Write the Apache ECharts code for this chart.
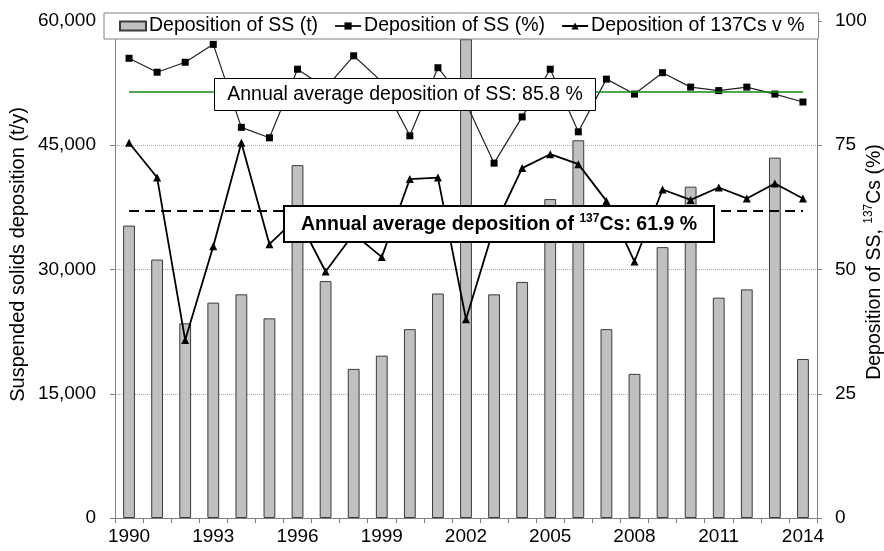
<!DOCTYPE html>
<html>
<head>
<meta charset="utf-8">
<script src="https://cdn.jsdelivr.net/npm/echarts@6/dist/echarts.min.js"></script>
<style>
  html, body { margin: 0; padding: 0; background: #fff; }
  #chart { width: 884px; height: 551px; }
</style>
</head>
<body>
<div id="chart"></div>
<script>
// Annual suspended-solids (SS) deposition and deposition shares, 1990-2014
const years = ['1990','1991','1992','1993','1994','1995','1996','1997','1998','1999',
               '2000','2001','2002','2003','2004','2005','2006','2007','2008','2009',
               '2010','2011','2012','2013','2014'];

// Deposition of SS, tonnes per year (left axis)
const ssTonnes = [35300, 31200, 23500, 26000, 27000, 24100, 42600, 28600, 18000, 19600,
                  22800, 27100, 57800, 27000, 28500, 38500, 45600, 22800, 17400, 32700,
                  40000, 26600, 27600, 43500, 19200];

// Deposition of SS, % (right axis)
const ssPercent = [92.5, 89.7, 91.7, 95.3, 78.6, 76.5, 90.3, 86.5, 93.0, 87.8,
                   76.9, 90.6, 83.5, 71.4, 80.7, 90.3, 77.7, 88.3, 85.3, 89.6,
                   86.7, 86.0, 86.7, 85.3, 83.7];

// Deposition of 137Cs, % (right axis)
const csPercent = [75.5, 68.5, 35.8, 54.7, 75.5, 55.1, 60.5, 49.6, 57.2, 52.5,
                   68.2, 68.5, 40.0, 58.5, 70.4, 73.2, 71.2, 63.8, 51.6, 66.1,
                   64.0, 66.5, 64.3, 67.3, 64.3];

// Long-term annual averages
const ssAverage = 85.8;
const csAverage = 61.9;

// Axis ranges
const leftAxis = { min: 0, max: 60000, step: 15000 };
const rightAxis = { min: 0, max: 100, step: 25 };

const FONT = 'Liberation Sans, Arial, sans-serif';
const AXIS_GREY = '#808080';
const AVG_GREEN = '#138a13';

const chart = echarts.init(document.getElementById('chart'), null, { renderer: 'canvas' });

// Boxed annotation placed on top of the plot
function noteBox(left, top, width, height, borderWidth, textStyle) {
  return {
    type: 'group',
    left: left,
    top: top,
    z: 100,
    children: [
      {
        type: 'rect',
        z: 100,
        shape: { x: 0, y: 0, width: width, height: height },
        style: { fill: '#fff', stroke: '#000', lineWidth: borderWidth }
      },
      {
        type: 'text',
        z: 101,
        x: width / 2,
        y: height / 2 + 0.5,
        style: Object.assign({ align: 'center', verticalAlign: 'middle', fill: '#000' }, textStyle)
      }
    ]
  };
}

const option = {
  animation: false,
  backgroundColor: '#fff',
  textStyle: { fontFamily: FONT, color: '#000' },
  grid: { left: 115, right: 67, top: 21, bottom: 33, containLabel: false, outerBoundsMode: 'none' },
  legend: {
    left: 104,
    top: 13,
    padding: [3, 14, 3, 15],
    itemGap: 16,
    itemWidth: 26,
    itemHeight: 9,
    backgroundColor: '#fff',
    borderColor: AXIS_GREY,
    borderWidth: 1,
    borderRadius: 0,
    textStyle: { fontFamily: FONT, fontSize: 19.5, color: '#000', padding: [0, 0, 0, -2] },
    data: [
      { name: 'Deposition of SS (t)', icon: 'rect' },
      { name: 'Deposition of SS (%)' },
      { name: 'Deposition of 137Cs v %' }
    ]
  },
  xAxis: {
    type: 'category',
    data: years,
    boundaryGap: true,
    axisLine: { lineStyle: { color: AXIS_GREY, width: 1 } },
    axisTick: { show: true, interval: 0, length: 5, lineStyle: { color: AXIS_GREY } },
    axisLabel: { interval: 2, fontSize: 19, color: '#000', margin: 9, fontFamily: FONT },
    splitLine: { show: false }
  },
  yAxis: [
    {
      type: 'value',
      position: 'left',
      min: leftAxis.min, max: leftAxis.max, interval: leftAxis.step,
      name: 'Suspended solids deposition (t/y)',
      nameLocation: 'middle',
      nameRotate: 90,
      nameGap: 87,
      nameMoveOverlap: false,
      nameTextStyle: { fontSize: 20, color: '#000', fontFamily: FONT, padding: [0, 0, 0, 30] },
      axisLine: { show: true, lineStyle: { color: AXIS_GREY, width: 1 } },
      axisTick: { show: true, length: 5, lineStyle: { color: AXIS_GREY } },
      axisLabel: {
        fontSize: 19, color: '#000', margin: 19, fontFamily: FONT,
        formatter: v => v.toLocaleString('en-US')
      },
      splitLine: { show: true, lineStyle: { color: '#a8a8a8', type: 'dotted', width: 1 } }
    },
    {
      type: 'value',
      position: 'right',
      min: rightAxis.min, max: rightAxis.max, interval: rightAxis.step,
      name: '{n|Deposition of SS, }{s|137}{n|Cs (%)}',
      nameLocation: 'middle',
      nameRotate: 90,
      nameGap: 46,
      nameMoveOverlap: false,
      nameTextStyle: {
        padding: [0, 0, 0, 15],
        rich: {
          n: { fontSize: 19.5, color: '#000', fontFamily: FONT, lineHeight: 24 },
          s: { fontSize: 12, color: '#000', fontFamily: FONT, verticalAlign: 'top', lineHeight: 14 }
        }
      },
      axisLine: { show: true, lineStyle: { color: AXIS_GREY, width: 1 } },
      axisTick: { show: true, length: 5, lineStyle: { color: AXIS_GREY } },
      axisLabel: { fontSize: 19, color: '#000', margin: 18, fontFamily: FONT },
      splitLine: { show: false }
    }
  ],
  series: [
    {
      name: 'Deposition of SS (t)',
      type: 'bar',
      yAxisIndex: 0,
      data: ssTonnes,
      barWidth: '42%',
      itemStyle: { color: '#c0c0c0', borderColor: '#3a3a3a', borderWidth: 1 },
      z: 1
    },
    {
      name: 'Deposition of SS (%)',
      type: 'line',
      yAxisIndex: 1,
      data: ssPercent,
      symbol: 'rect',
      symbolSize: 7,
      showAllSymbol: true,
      lineStyle: { color: '#222', width: 1.2 },
      itemStyle: { color: '#000' },
      z: 3,
      markLine: {
        silent: true,
        symbol: 'none',
        label: { show: false },
        lineStyle: { color: AVG_GREEN, width: 1.5, type: 'solid', opacity: 1 },
        emphasis: { disabled: true },
        data: [[
          { coord: [years[0], ssAverage], lineStyle: { color: AVG_GREEN, width: 1.5 } },
          { coord: [years[years.length - 1], ssAverage] }
        ]]
      }
    },
    {
      name: 'Deposition of 137Cs v %',
      type: 'line',
      yAxisIndex: 1,
      data: csPercent,
      symbol: 'triangle',
      symbolSize: 8,
      showAllSymbol: true,
      lineStyle: { color: '#000', width: 1.8 },
      itemStyle: { color: '#000' },
      z: 4,
      markLine: {
        silent: true,
        symbol: 'none',
        label: { show: false },
        lineStyle: { color: '#000', width: 2, type: [10, 6] },
        emphasis: { disabled: true },
        data: [[
          { coord: [years[0], csAverage] },
          { coord: [years[years.length - 1], csAverage] }
        ]]
      }
    }
  ],
  graphic: [
    noteBox(214, 78, 381, 32, 1, {
      text: 'Annual average deposition of SS: ' + ssAverage.toFixed(1) + ' %',
      font: '19.5px ' + FONT
    }),
    noteBox(283, 205, 430, 36, 2, {
      text: '{b|Annual average deposition of }{s|137}{b|Cs: ' + csAverage.toFixed(1) + ' %}',
      rich: {
        b: { fontSize: 19.5, fontWeight: 'bold', fontFamily: FONT, fill: '#000', lineHeight: 24 },
        s: { fontSize: 12, fontWeight: 'bold', fontFamily: FONT, fill: '#000', verticalAlign: 'top', lineHeight: 14 }
      }
    })
  ]
};

chart.setOption(option);
</script>
</body>
</html>
